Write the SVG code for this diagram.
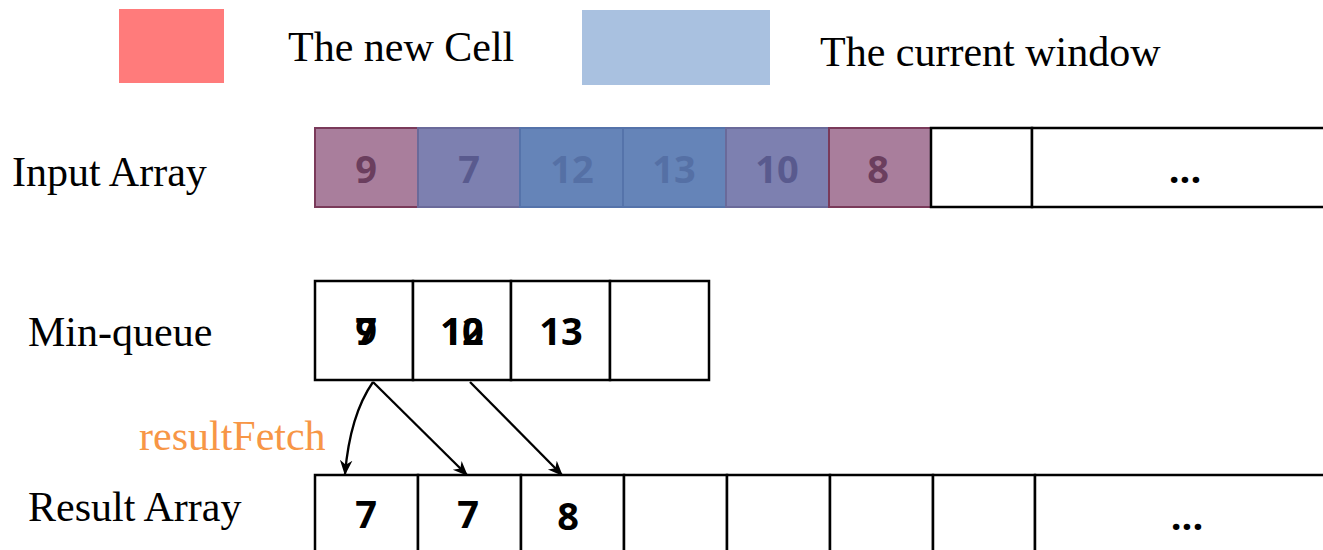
<svg xmlns="http://www.w3.org/2000/svg" width="1323" height="550" viewBox="0 0 1323 550">
  <style>
    .lbl { font-family: "Liberation Serif", "Times New Roman", serif; font-size: 42px; fill: #000; }
    .num { font-family: "Open Sans", "Liberation Sans", sans-serif; font-weight: bold; font-size: 38px; text-anchor: middle; }
    .cell { fill: #fff; stroke: #000; stroke-width: 2.5; }
    .conn { fill: none; stroke: #000; stroke-width: 2.3; }
  </style>
  <defs>
    <marker id="arrow" viewBox="0 0 12 12" refX="11" refY="6" markerWidth="15" markerHeight="15" markerUnits="userSpaceOnUse" orient="auto">
      <path d="M0,1 L12,6 L0,11 L3.5,6 Z" fill="#000"/>
    </marker>
  </defs>
  <rect width="1323" height="550" fill="#fff"/>

  <!-- legend -->
  <g id="legend">
    <rect x="119" y="9" width="105" height="74" fill="#FF7B7B"/>
    <text class="lbl" x="288" y="61">The new Cell</text>
    <rect x="582" y="10" width="188" height="75" fill="#A9C1E0"/>
    <text class="lbl" x="820" y="66">The current window</text>
  </g>

  <!-- input array -->
  <g id="input-array">
    <text class="lbl" x="12" y="186">Input Array</text>
    <rect x="315" y="128" width="103" height="79" fill="#A97E9C" stroke="#7A3A5A" stroke-width="2"/>
    <rect x="418" y="128" width="102" height="79" fill="#7D80B0" stroke="#6A6A9A" stroke-width="2"/>
    <rect x="520" y="128" width="103" height="79" fill="#6584B8" stroke="#5573AA" stroke-width="2"/>
    <rect x="623" y="128" width="103" height="79" fill="#6584B8" stroke="#5573AA" stroke-width="2"/>
    <rect x="726" y="128" width="103" height="79" fill="#7D80B0" stroke="#6A6A9A" stroke-width="2"/>
    <rect x="829" y="128" width="102" height="79" fill="#A97E9C" stroke="#7A3A5A" stroke-width="2"/>
    <rect class="cell" x="931" y="128" width="101" height="79"/>
    <rect class="cell" x="1032" y="128" width="300" height="79"/>
    <text class="num" x="366" y="183" fill="#6B3E5E">9</text>
    <text class="num" x="469" y="183" fill="#595A8E">7</text>
    <text class="num" x="572" y="183" fill="#5570A5">12</text>
    <text class="num" x="674" y="183" fill="#5570A5">13</text>
    <text class="num" x="777" y="183" fill="#595A8E">10</text>
    <text class="num" x="878" y="183" fill="#6B3E5E">8</text>
    <text class="num" x="1185" y="183" fill="#000">...</text>
  </g>

  <!-- min-queue -->
  <g id="min-queue">
    <text class="lbl" x="28" y="346">Min-queue</text>
    <rect class="cell" x="315" y="281" width="98" height="99"/>
    <rect class="cell" x="413" y="281" width="98" height="99"/>
    <rect class="cell" x="511" y="281" width="99" height="99"/>
    <rect class="cell" x="610" y="281" width="99" height="99"/>
    <text class="num" x="366" y="345" fill="#000">9</text>
    <text class="num" x="366" y="345" fill="#000">7</text>
    <text class="num" x="462" y="345" fill="#000">10</text>
    <text class="num" x="462" y="345" fill="#000">12</text>
    <text class="num" x="561" y="345" fill="#000">13</text>
  </g>

  <!-- result array -->
  <g id="result-array">
    <text class="lbl" x="28" y="521">Result Array</text>
    <rect class="cell" x="315" y="475" width="103" height="90"/>
    <rect class="cell" x="418" y="475" width="103" height="90"/>
    <rect class="cell" x="521" y="475" width="103" height="90"/>
    <rect class="cell" x="624" y="475" width="103" height="90"/>
    <rect class="cell" x="727" y="475" width="103" height="90"/>
    <rect class="cell" x="830" y="475" width="103" height="90"/>
    <rect class="cell" x="933" y="475" width="102" height="90"/>
    <rect class="cell" x="1035" y="475" width="300" height="90"/>
    <text class="num" x="366" y="528" fill="#000">7</text>
    <text class="num" x="468" y="528" fill="#000">7</text>
    <text class="num" x="568" y="530" fill="#000">8</text>
    <text class="num" x="1187" y="530" fill="#000">...</text>
  </g>

  <!-- connectors -->
  <g id="connectors">
    <path class="conn" d="M373,382 Q350,415 345,474" marker-end="url(#arrow)"/>
    <path class="conn" d="M373,382 L467,475" marker-end="url(#arrow)"/>
    <path class="conn" d="M470,382 L562,475" marker-end="url(#arrow)"/>
    <text x="139" y="450" style="font-family: 'Liberation Serif', 'Times New Roman', serif; font-size: 42px; fill: #F79646;">resultFetch</text>
  </g>
</svg>
